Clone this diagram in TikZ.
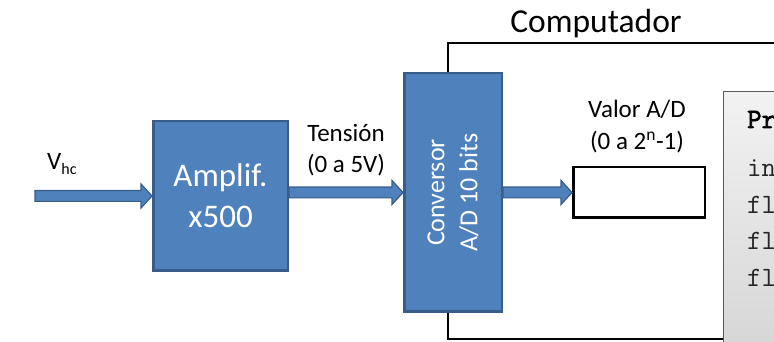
\documentclass[tikz,border=0pt]{standalone}
\usepackage{fontspec}
\setmainfont{Carlito}
\newfontfamily\codeboldfont{Latin Modern Mono}[FakeBold=2.5]
\usetikzlibrary{positioning, calc}
\definecolor{blockfill}{HTML}{4F81BD}
\definecolor{blockedge}{HTML}{385D8A}
\definecolor{ink}{HTML}{000000}
\definecolor{paneltop}{HTML}{F2F2F2}
\definecolor{panelbot}{HTML}{D6D6D6}
\definecolor{paneledge}{HTML}{595959}
\tikzset{
  block/.style   = {rectangle, draw=blockedge, line width=2.5pt, fill=blockfill,
                    text=white, align=center, inner sep=0pt},
  reg/.style     = {rectangle, draw=ink, line width=2.5pt, fill=white,
                    minimum width=131.5pt, minimum height=50.5pt},
  panel/.style   = {rectangle, draw=paneledge, line width=1.2pt,
                    top color=paneltop, bottom color=panelbot,
                    minimum width=100pt, minimum height=259pt, inner sep=0pt},
  lbl/.style     = {align=center, text=ink, inner sep=0pt,
                    font=\fontsize{25}{31.5}\selectfont},
  code/.style    = {anchor=base west, inner sep=0pt, text=ink!85,
                    font=\ttfamily\fontsize{28}{28}\selectfont},
  pcframe/.style = {draw=ink, line width=2.5pt},
  barrow/.style  = {fill=blockfill, draw=blockedge, line width=1.2pt,
                    to path={let \p1=(\tikztostart), \p2=(\tikztotarget) in
                      (\x1,\y2+5.4pt) -- (\x2-11pt,\y2+5.4pt) -- (\x2-11pt,\y2+12pt)
                      -- (\x2,\y2) -- (\x2-11pt,\y2-12pt) -- (\x2-11pt,\y2-5.4pt)
                      -- (\x1,\y2-5.4pt) -- cycle}},
}
\begin{document}
\begin{tikzpicture}[x=1pt, y=1pt]
  \clip (0,0) rectangle (774,342);

  % computer frame (runs past the right and bottom edges)
  \draw[pcframe] (448,3) rectangle (830,299);
  \node[lbl, anchor=base, font=\fontsize{33.5}{33.5}\selectfont] (comp) at (596,309) {Computador};

  \coordinate (vin) at (35,145.5);
  \node[block, minimum width=134.5pt, minimum height=149.5pt,
        font=\fontsize{33}{41}\selectfont] (amp) at (220.5,146) {Amplif.\\x500};
  \node[block, minimum width=97.5pt, minimum height=238.5pt,
        right=114pt of amp, yshift=3.5pt] (conv) {};
  \node[rotate=90, align=center, text=white, inner sep=0pt,
        font=\fontsize{26}{33}\selectfont] (convtxt) at (conv.center) {Conversor\\A/D 10 bits};
  \node[reg, right=69pt of conv] (reg) {};

  \node[lbl, anchor=base west] (vhc) at ($(vin)+(12,26.5)$)
       {V\raisebox{-5pt}{\fontsize{16}{16}\selectfont hc}};
  \node[lbl, above=18pt] (tens) at ($(amp.east)!0.5!(conv.west)$) {Tensión\\(0 a 5V)};
  \node[lbl, above=13pt of reg, xshift=-2pt] (valor) {Valor A/D\\(0 a 2\textsuperscript{n}-1)};

  \draw[barrow] (vin) to (amp.west);
  \draw[barrow] (amp.east) to (conv.west);
  \draw[barrow] (conv.east) to (reg.west);

  % program listing, cut off by the page edge
  \node[panel, anchor=north west] (prog) at (723,251) {};
  \node[code, text=ink] (c1) at ($(prog.north west)+(24,-37)$) {\codeboldfont\fontsize{28}{28}\selectfont Pr};
  \node[code] (c2) at ($(c1.base west)+(0,-49)$) {in};
  \node[code] (c3) at ($(c2.base west)+(0,-36.5)$) {fl};
  \node[code] (c4) at ($(c3.base west)+(0,-36.5)$) {fl};
  \node[code] (c5) at ($(c4.base west)+(0,-36.5)$) {fl};

\end{tikzpicture}
\end{document}
